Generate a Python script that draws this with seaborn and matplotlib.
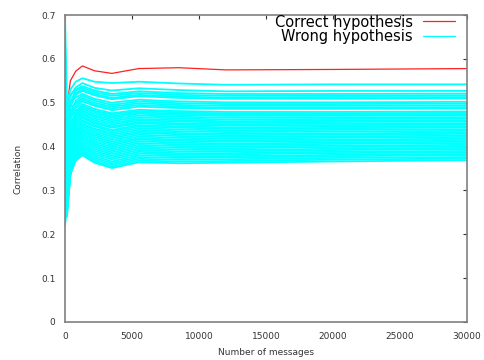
import numpy as np
import pandas as pd
import matplotlib
matplotlib.use('Agg')
import matplotlib.pyplot as plt
import seaborn as sns
from matplotlib.lines import Line2D

# sample positions (number of messages)
messages = [1, 150, 400, 800, 1300, 2200, 3500, 5500, 8500, 12000, 20000, 30000]

# correlation of the correct key hypothesis
correct = [0.490, 0.490, 0.550, 0.572, 0.584, 0.573, 0.567, 0.578, 0.580, 0.575, 0.576, 0.578]

# correlation of the wrong key hypotheses
wrong = [
    [0.700, 0.500, 0.530, 0.548, 0.556, 0.548, 0.545, 0.548, 0.544, 0.541, 0.542, 0.542],
    [0.520, 0.480, 0.515, 0.535, 0.545, 0.534, 0.528, 0.533, 0.529, 0.526, 0.527, 0.527],
    [0.640, 0.440, 0.500, 0.530, 0.538, 0.528, 0.520, 0.526, 0.522, 0.520, 0.520, 0.521],
    [0.450, 0.510, 0.520, 0.528, 0.534, 0.524, 0.516, 0.522, 0.518, 0.516, 0.516, 0.517],
    [0.580, 0.460, 0.495, 0.522, 0.530, 0.520, 0.511, 0.518, 0.514, 0.512, 0.513, 0.513],
    [0.380, 0.420, 0.490, 0.518, 0.527, 0.517, 0.508, 0.515, 0.511, 0.509, 0.509, 0.510],
    [0.490, 0.470, 0.505, 0.512, 0.520, 0.509, 0.500, 0.507, 0.503, 0.501, 0.501, 0.502],
    [0.330, 0.390, 0.470, 0.505, 0.516, 0.505, 0.495, 0.503, 0.499, 0.497, 0.497, 0.498],
    [0.600, 0.450, 0.480, 0.500, 0.511, 0.500, 0.491, 0.499, 0.495, 0.493, 0.493, 0.494],
    [0.420, 0.500, 0.490, 0.497, 0.507, 0.496, 0.487, 0.495, 0.491, 0.489, 0.489, 0.490],
    [0.360, 0.410, 0.460, 0.492, 0.503, 0.493, 0.483, 0.491, 0.488, 0.486, 0.486, 0.487],
    [0.470, 0.430, 0.475, 0.488, 0.497, 0.486, 0.476, 0.484, 0.481, 0.479, 0.479, 0.480],
    [0.280, 0.360, 0.440, 0.482, 0.493, 0.482, 0.473, 0.481, 0.478, 0.476, 0.476, 0.477],
    [0.540, 0.480, 0.470, 0.479, 0.490, 0.479, 0.469, 0.478, 0.475, 0.473, 0.473, 0.474],
    [0.400, 0.340, 0.430, 0.475, 0.486, 0.475, 0.466, 0.475, 0.472, 0.470, 0.470, 0.471],
    [0.310, 0.460, 0.455, 0.472, 0.482, 0.471, 0.462, 0.471, 0.468, 0.466, 0.466, 0.467],
    [0.560, 0.400, 0.420, 0.468, 0.479, 0.468, 0.458, 0.467, 0.464, 0.462, 0.463, 0.464],
    [0.350, 0.300, 0.410, 0.463, 0.475, 0.464, 0.454, 0.463, 0.460, 0.458, 0.459, 0.460],
    [0.440, 0.440, 0.450, 0.460, 0.472, 0.460, 0.450, 0.460, 0.457, 0.455, 0.456, 0.457],
    [0.250, 0.330, 0.400, 0.455, 0.468, 0.456, 0.446, 0.456, 0.453, 0.451, 0.452, 0.453],
    [0.510, 0.370, 0.430, 0.452, 0.465, 0.453, 0.443, 0.453, 0.450, 0.448, 0.449, 0.450],
    [0.300, 0.280, 0.380, 0.447, 0.460, 0.449, 0.438, 0.449, 0.446, 0.444, 0.445, 0.446],
    [0.620, 0.420, 0.440, 0.445, 0.457, 0.446, 0.435, 0.446, 0.443, 0.441, 0.442, 0.443],
    [0.370, 0.350, 0.390, 0.440, 0.453, 0.441, 0.431, 0.442, 0.439, 0.437, 0.438, 0.439],
    [0.230, 0.260, 0.360, 0.436, 0.450, 0.438, 0.427, 0.438, 0.435, 0.433, 0.434, 0.436],
    [0.460, 0.390, 0.410, 0.432, 0.446, 0.434, 0.423, 0.434, 0.431, 0.429, 0.430, 0.432],
    [0.340, 0.310, 0.370, 0.428, 0.442, 0.430, 0.419, 0.431, 0.428, 0.426, 0.427, 0.429],
    [0.500, 0.450, 0.420, 0.425, 0.438, 0.426, 0.415, 0.427, 0.424, 0.422, 0.423, 0.425],
    [0.270, 0.290, 0.350, 0.421, 0.435, 0.422, 0.411, 0.423, 0.420, 0.418, 0.420, 0.422],
    [0.420, 0.380, 0.390, 0.418, 0.431, 0.418, 0.407, 0.419, 0.416, 0.414, 0.416, 0.418],
    [0.320, 0.250, 0.340, 0.413, 0.427, 0.414, 0.403, 0.416, 0.413, 0.411, 0.413, 0.415],
    [0.550, 0.430, 0.400, 0.410, 0.423, 0.410, 0.399, 0.412, 0.409, 0.407, 0.409, 0.411],
    [0.290, 0.320, 0.350, 0.406, 0.420, 0.406, 0.395, 0.408, 0.405, 0.404, 0.406, 0.408],
    [0.390, 0.270, 0.345, 0.402, 0.416, 0.402, 0.391, 0.404, 0.401, 0.400, 0.402, 0.404],
    [0.240, 0.350, 0.360, 0.398, 0.412, 0.398, 0.387, 0.400, 0.397, 0.396, 0.399, 0.401],
    [0.450, 0.300, 0.340, 0.395, 0.408, 0.394, 0.383, 0.396, 0.393, 0.392, 0.395, 0.397],
    [0.310, 0.240, 0.335, 0.391, 0.404, 0.390, 0.379, 0.392, 0.389, 0.389, 0.392, 0.394],
    [0.360, 0.330, 0.345, 0.388, 0.400, 0.386, 0.375, 0.388, 0.385, 0.385, 0.388, 0.390],
    [0.260, 0.280, 0.340, 0.384, 0.397, 0.382, 0.371, 0.384, 0.382, 0.382, 0.385, 0.387],
    [0.410, 0.310, 0.338, 0.380, 0.393, 0.378, 0.366, 0.380, 0.378, 0.378, 0.381, 0.383],
    [0.220, 0.260, 0.335, 0.377, 0.389, 0.374, 0.362, 0.376, 0.374, 0.375, 0.378, 0.380],
    [0.330, 0.290, 0.340, 0.374, 0.386, 0.370, 0.358, 0.372, 0.370, 0.371, 0.374, 0.376],
    [0.280, 0.250, 0.336, 0.371, 0.383, 0.366, 0.354, 0.368, 0.366, 0.367, 0.370, 0.373],
    [0.300, 0.270, 0.338, 0.368, 0.380, 0.363, 0.351, 0.364, 0.362, 0.363, 0.366, 0.369],
]

# long table for seaborn
rows = []
for i, w in enumerate(wrong):
    for m, v in zip(messages, w):
        rows.append({'messages': m, 'corr': v, 'line': i})
df_wrong = pd.DataFrame(rows)
df_correct = pd.DataFrame({'messages': messages, 'corr': correct})

sns.set_style('white')
plt.rcParams['font.family'] = ['DejaVu Sans']

fig = plt.figure(figsize=(4.85, 3.6), dpi=100)
ax = fig.add_axes([0.134, 0.106, 0.829, 0.852])

sns.lineplot(data=df_correct, x='messages', y='corr', color='#ff2020',
             linewidth=0.9, ax=ax, legend=False)
sns.lineplot(data=df_wrong, x='messages', y='corr', units='line', estimator=None,
             color='#00ffff', linewidth=1.3, ax=ax, legend=False)

ax.set_xlim(0, 30000)
ax.set_ylim(0, 0.7)
ax.set_xticks(range(0, 30001, 5000))
ax.set_yticks(np.arange(0, 0.71, 0.1))
ax.set_yticklabels(['0', '0.1', '0.2', '0.3', '0.4', '0.5', '0.6', '0.7'])
ax.tick_params(direction='in', length=3, width=0.8, colors='#333333',
               labelsize=6.5, top=True, right=True, pad=7)
for s in ax.spines.values():
    s.set_color('#808080')
    s.set_linewidth(1.2)

ax.set_xlabel('Number of messages', fontsize=6.5, color='#333333', labelpad=5)
ax.set_ylabel('Correlation', fontsize=6.5, color='#333333', labelpad=13)

handles = [Line2D([], [], color='#ff2020', linewidth=0.9),
           Line2D([], [], color='#00ffff', linewidth=0.9)]
leg = ax.legend(handles, ['Correct hypothesis', 'Wrong hypothesis'],
                loc='upper right', bbox_to_anchor=(0.995, 1.035), frameon=False,
                markerfirst=False, fontsize=10.5, handlelength=2.2,
                handletextpad=0.7, labelspacing=-0.05, borderaxespad=0.3)
for t in leg.get_texts():
    t.set_ha('right')
    t.set_color('black')

fig.savefig('out.png', dpi=100)
